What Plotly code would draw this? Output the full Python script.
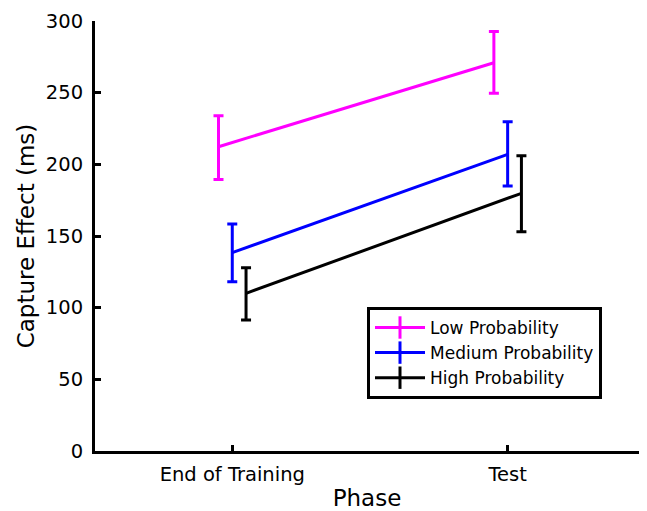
import plotly.graph_objects as go

phases = ["End of Training", "Test"]
series = ["Low Probability", "Medium Probability", "High Probability"]
means = {
    "Low Probability": [212.3, 270.9],
    "Medium Probability": [138.4, 207.0],
    "High Probability": [110.0, 179.8],
}
upper = {
    "Low Probability": [233.9, 292.6],
    "Medium Probability": [158.4, 229.7],
    "High Probability": [127.9, 206.0],
}
lower = {
    "Low Probability": [189.5, 249.6],
    "Medium Probability": [118.1, 184.9],
    "High Probability": [91.4, 153.0],
}
colors = {"Low Probability": "#FF00FF", "Medium Probability": "#0000FF", "High Probability": "#000000"}
offsets = {"Low Probability": -0.05, "Medium Probability": 0.0, "High Probability": 0.05}

FONT = "DejaVu Sans"
fig = go.Figure()
for s in series:
    xs = [i + 1 + offsets[s] for i in range(len(phases))]
    m = means[s]
    fig.add_trace(go.Scatter(
        x=xs, y=m, mode="lines", name=s, showlegend=False,
        line=dict(color=colors[s], width=3),
        error_y=dict(type="data", symmetric=False,
                     array=[u - v for u, v in zip(upper[s], m)],
                     arrayminus=[v - l for v, l in zip(m, lower[s])],
                     color=colors[s], thickness=3, width=5),
    ))
# legend-only entries (line with a vertical error-bar glyph)
for s in series:
    fig.add_trace(go.Scatter(
        x=[None], y=[None], mode="lines+markers", name=s,
        line=dict(color=colors[s], width=3),
        marker=dict(symbol="line-ns-open", size=16, color=colors[s],
                    line=dict(color=colors[s], width=3)),
    ))

fig.update_layout(
    width=631, height=503,
    margin=dict(l=87, r=0, t=13, b=60, autoexpand=False),
    plot_bgcolor="white", paper_bgcolor="white",
    font=dict(family=FONT, size=19.5, color="black"),
    showlegend=True,
    legend=dict(x=0.5, y=0.335, xanchor="left", yanchor="top",
                bordercolor="black", borderwidth=3, bgcolor="white",
                font=dict(family=FONT, size=17), tracegroupgap=0,
                itemwidth=50),
    xaxis=dict(range=[0.5015, 2.477], tickvals=[1, 2], ticktext=phases,
               showgrid=False, zeroline=False, showline=True, linecolor="black", linewidth=3,
               ticks="inside", ticklen=6, tickwidth=3, tickcolor="black", automargin=False,
               ticklabelstandoff=4,
               title=dict(text="Phase", standoff=13), tickfont=dict(size=19.5)),
    yaxis=dict(range=[0, 300], tickvals=[0, 50, 100, 150, 200, 250, 300],
               showgrid=False, zeroline=False, showline=True, linecolor="black", linewidth=3,
               ticks="inside", ticklen=6, tickwidth=3, tickcolor="black", automargin=False,
               ticklabelstandoff=5,
               title=dict(text="Capture Effect (ms)", standoff=5), tickfont=dict(size=19.5)),
)
fig.write_html("out.html")
